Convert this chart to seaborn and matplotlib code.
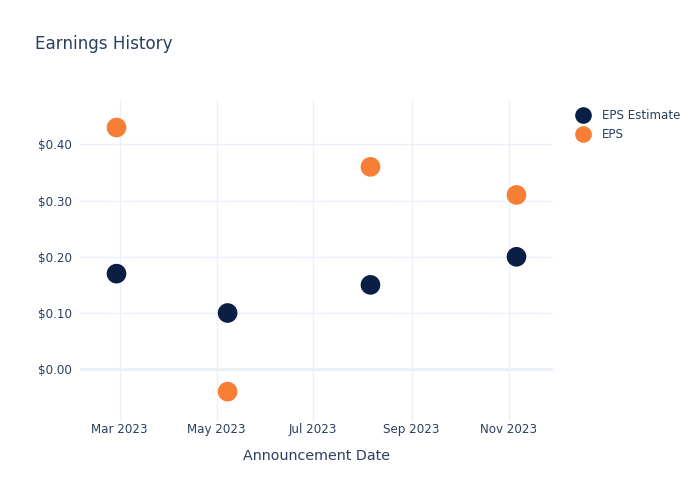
import matplotlib
matplotlib.use("Agg")
import matplotlib.pyplot as plt
import matplotlib.dates as mdates
from matplotlib.ticker import FuncFormatter, FixedLocator
from matplotlib.lines import Line2D
import seaborn as sns
import pandas as pd

dates = ["2023-02-27", "2023-05-08", "2023-08-06", "2023-11-06"]
eps_estimate = [0.17, 0.10, 0.15, 0.20]
eps_actual = [0.43, -0.04, 0.36, 0.31]
series_names = ["EPS Estimate", "EPS"]
colors = ["#0b1f45", "#f77f35"]
y_ticks = [0.0, 0.1, 0.2, 0.3, 0.4]

df = pd.DataFrame({
    "date": pd.to_datetime(dates * 2),
    "value": eps_estimate + eps_actual,
    "series": [series_names[0]] * len(dates) + [series_names[1]] * len(dates),
})

sns.set_theme(style="white")
plt.rcParams["font.family"] = ["DejaVu Sans"]
text_color = "#2a3f5f"
grid_color = "#ebf0f8"

fig = plt.figure(figsize=(7, 5), dpi=100)
ax = fig.add_axes([80 / 700, 78 / 500, 473 / 700, 322 / 500])

sns.scatterplot(data=df, x="date", y="value", hue="series", palette=colors,
                s=200, edgecolor="none", ax=ax, legend=False, zorder=3)

ax.set_xlim(pd.Timestamp("2023-02-04"), pd.Timestamp("2023-11-29"))
ax.set_ylim(-0.094, 0.479)

ax.xaxis.set_major_locator(mdates.MonthLocator(bymonth=[3, 5, 7, 9, 11]))
ax.xaxis.set_major_formatter(mdates.DateFormatter("%b %Y"))
ax.yaxis.set_major_locator(FixedLocator(y_ticks))
ax.yaxis.set_major_formatter(FuncFormatter(lambda v, p: f"${v:.2f}"))

ax.grid(True, color=grid_color, linewidth=1, zorder=0)
ax.axhline(0, color=grid_color, linewidth=2, zorder=1)
for s in ax.spines.values():
    s.set_visible(False)
ax.tick_params(axis="both", length=0, labelsize=8.6, colors=text_color)
ax.tick_params(axis="y", pad=6)
ax.tick_params(axis="x", pad=1)

ax.set_xlabel("Announcement Date", fontsize=10.3, color=text_color, labelpad=9)
ax.set_ylabel("")

fig.text(35 / 700, 1 - 44 / 500, "Earnings History", fontsize=12.1,
         color=text_color, va="center", ha="left")

handles = [Line2D([0], [0], marker="o", linestyle="none", markersize=12,
                  markerfacecolor=c, markeredgecolor="none") for c in colors]
fig.legend(handles, series_names, loc="upper left",
           bbox_to_anchor=(571 / 700, 1 - 104 / 500), frameon=False,
           fontsize=8.6, labelcolor=text_color, handletextpad=1.0,
           labelspacing=0.55, borderaxespad=0, handlelength=1.2)

fig.savefig("out.png", dpi=100)
